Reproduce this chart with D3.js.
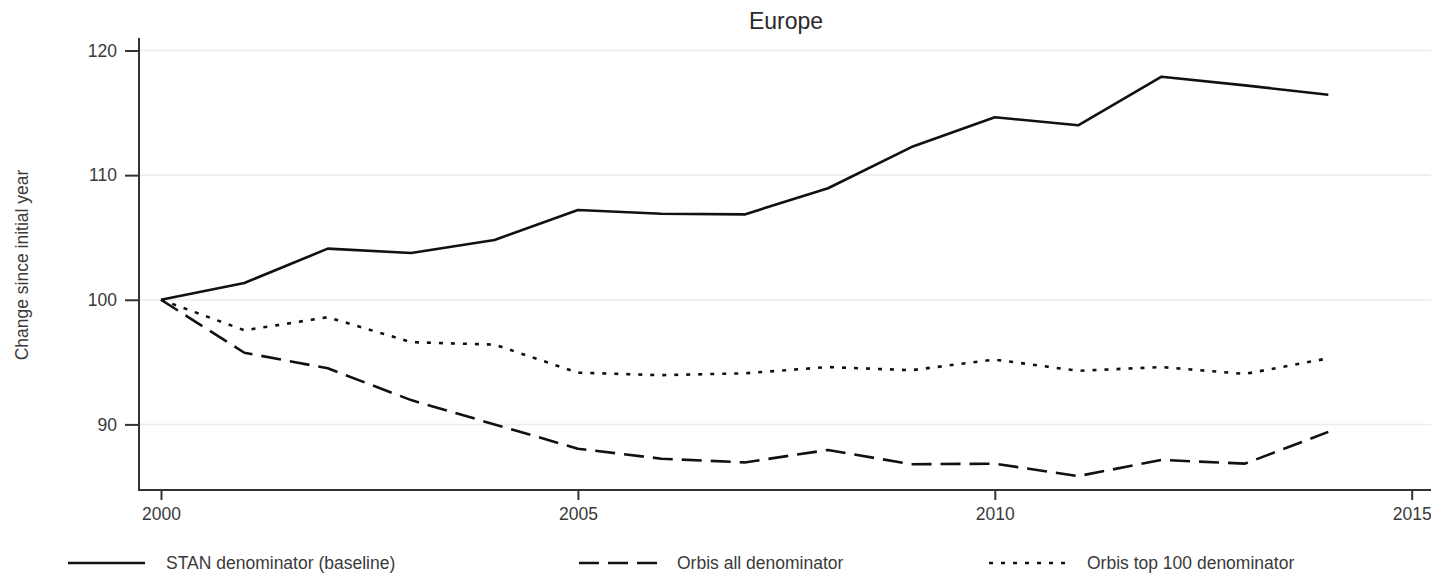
<!DOCTYPE html>
<html>
<head>
<meta charset="utf-8">
<script src="https://cdn.jsdelivr.net/npm/d3@7"></script>
<style>
  html, body { margin: 0; padding: 0; background: #fff; }
  svg { display: block; font-family: "Liberation Sans", Arial, sans-serif; }
  .grid line { stroke: #ececec; stroke-width: 1.5; }
  .axis text { fill: #3a3a3a; font-size: 17.5px; }
  .axis line { stroke: #333; stroke-width: 2; }
  .axis-line { stroke: #333; stroke-width: 2; }
  .series { fill: none; stroke: #111; stroke-width: 2.6; stroke-linejoin: round; }
  .legend text { fill: #3a3a3a; font-size: 17.5px; }
</style>
</head>
<body>
<div id="chart"></div>
<script>
// ── Data ──────────────────────────────────────────────────
const years = [2000, 2001, 2002, 2003, 2004, 2005, 2006, 2007,
               2008, 2009, 2010, 2011, 2012, 2013, 2014];

const stanValues = [100, 101.35, 104.1, 103.75, 104.8, 107.2, 106.9, 106.85,
                    108.95, 112.25, 114.65, 114.0, 117.9, 117.2, 116.45];

const orbisAllValues = [100, 95.75, 94.5, 91.95, 90.0, 88.05, 87.25, 86.95,
                        87.95, 86.8, 86.85, 85.85, 87.15, 86.85, 89.4];

const orbisTopValues = [100, 97.55, 98.6, 96.6, 96.4, 94.15, 93.95, 94.1,
                        94.6, 94.35, 95.2, 94.3, 94.6, 94.05, 95.3];

const seriesNames = ['STAN denominator (baseline)', 'Orbis all denominator', 'Orbis top 100 denominator'];
const xTicks = [2000, 2005, 2010, 2015];
const yTicks = [90, 100, 110, 120];

// ── Layout ─────────────────────────────────────────────────
const W = 1431, H = 573;
const AXIS_X = 139;     // y axis line position
const AXIS_Y = 490;     // x axis line position
const AXIS_TOP = 38;

const series = [
  { name: seriesNames[0], values: stanValues,     dash: null   },
  { name: seriesNames[1], values: orbisAllValues, dash: '20,9' },
  { name: seriesNames[2], values: orbisTopValues, dash: '4,8'  },
];

const svg = d3.select('#chart').append('svg')
  .attr('width', W)
  .attr('height', H);

const x = d3.scaleLinear().domain([2000, 2015]).range([161, 1411.7]);
const y = d3.scaleLinear().domain([90, 120]).range([424.4, 50.5]);

// Gridlines
svg.append('g').attr('class', 'grid')
  .selectAll('line')
  .data(yTicks)
  .enter()
  .append('line')
  .attr('x1', AXIS_X)
  .attr('x2', W)
  .attr('y1', d => y(d))
  .attr('y2', d => y(d));

// ── Axes ──────────────────────────────────────────────────
const yAxis = svg.append('g').attr('class', 'axis')
  .attr('transform', `translate(${AXIS_X},0)`)
  .call(d3.axisLeft(y).tickValues(yTicks).tickSize(14).tickPadding(8));
yAxis.select('.domain').remove();

const xAxis = svg.append('g').attr('class', 'axis')
  .attr('transform', `translate(0,${AXIS_Y})`)
  .call(d3.axisBottom(x).tickValues(xTicks).tickFormat(d3.format('d')).tickSize(10).tickPadding(7.7));
xAxis.select('.domain').remove();

svg.append('line').attr('class', 'axis-line')
  .attr('x1', AXIS_X).attr('x2', AXIS_X)
  .attr('y1', AXIS_TOP).attr('y2', AXIS_Y + 1);
svg.append('line').attr('class', 'axis-line')
  .attr('x1', AXIS_X - 1).attr('x2', W)
  .attr('y1', AXIS_Y).attr('y2', AXIS_Y);

// ── Lines ─────────────────────────────────────────────────
const line = d3.line()
  .x((d, i) => x(years[i]))
  .y(d => y(d));

svg.append('g')
  .selectAll('.series')
  .data(series)
  .enter()
  .append('path')
  .attr('class', 'series')
  .attr('d', d => line(d.values))
  .attr('stroke-dasharray', d => d.dash);

// ── Titles ────────────────────────────────────────────────
svg.append('text')
  .attr('x', 786)
  .attr('y', 29)
  .attr('text-anchor', 'middle')
  .attr('fill', '#2a2a2a')
  .style('font-size', '23px')
  .text('Europe');

svg.append('text')
  .attr('transform', 'translate(28,265) rotate(-90)')
  .attr('text-anchor', 'middle')
  .attr('fill', '#3a3a3a')
  .style('font-size', '17.5px')
  .text('Change since initial year');

// ── Legend ────────────────────────────────────────────────
const legendPos = [
  { x1: 68,  x2: 145,  tx: 166  },
  { x1: 579, x2: 657,  tx: 677  },
  { x1: 989, x2: 1067, tx: 1087 },
];

const legend = svg.append('g').attr('class', 'legend')
  .selectAll('g')
  .data(series)
  .enter()
  .append('g');

legend.append('line')
  .attr('class', 'series')
  .attr('x1', (d, i) => legendPos[i].x1)
  .attr('x2', (d, i) => legendPos[i].x2)
  .attr('y1', 563)
  .attr('y2', 563)
  .attr('stroke-dasharray', d => d.dash);

legend.append('text')
  .attr('x', (d, i) => legendPos[i].tx)
  .attr('y', 563)
  .attr('dy', '0.35em')
  .text(d => d.name);
</script>
</body>
</html>
